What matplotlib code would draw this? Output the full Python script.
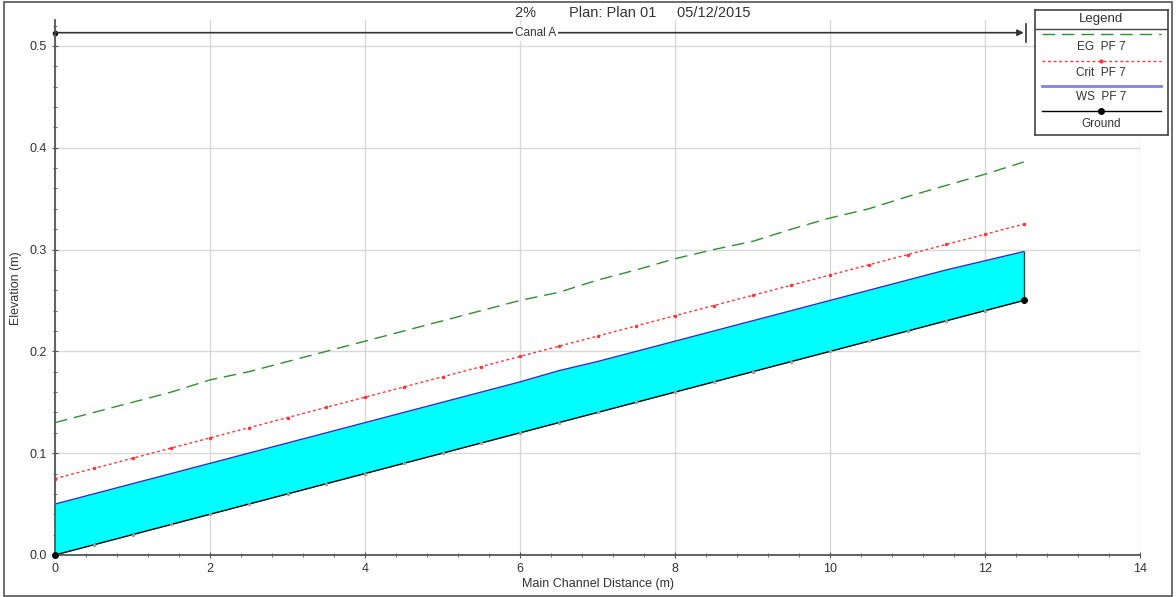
import matplotlib
matplotlib.use("Agg")
import matplotlib.pyplot as plt
from matplotlib.patches import Rectangle
from matplotlib.ticker import MultipleLocator

plt.rcParams["font.family"] = ["Liberation Sans", "DejaVu Sans"]

# station (m) every 0.5 m
dist = [0.0, 0.5, 1.0, 1.5, 2.0, 2.5, 3.0, 3.5, 4.0, 4.5, 5.0, 5.5, 6.0,
        6.5, 7.0, 7.5, 8.0, 8.5, 9.0, 9.5, 10.0, 10.5, 11.0, 11.5, 12.0, 12.5]
ground = [0.0, 0.01, 0.02, 0.03, 0.04, 0.05, 0.06, 0.07, 0.08, 0.09, 0.10, 0.11, 0.12,
          0.13, 0.14, 0.15, 0.16, 0.17, 0.18, 0.19, 0.20, 0.21, 0.22, 0.23, 0.24, 0.25]
ws = [0.050, 0.060, 0.070, 0.080, 0.090, 0.100, 0.110, 0.120, 0.130, 0.140, 0.150, 0.160, 0.170,
      0.181, 0.190, 0.200, 0.210, 0.220, 0.230, 0.240, 0.250, 0.260, 0.270, 0.280, 0.289, 0.298]
crit = [0.075, 0.085, 0.095, 0.105, 0.115, 0.125, 0.135, 0.145, 0.155, 0.165, 0.175, 0.185, 0.195,
        0.205, 0.215, 0.225, 0.235, 0.245, 0.255, 0.265, 0.275, 0.285, 0.295, 0.305, 0.315, 0.325]
eg = [0.130, 0.140, 0.150, 0.160, 0.172, 0.180, 0.190, 0.200, 0.210, 0.220, 0.230, 0.240, 0.250,
      0.258, 0.270, 0.280, 0.291, 0.300, 0.308, 0.320, 0.331, 0.340, 0.352, 0.363, 0.374, 0.386]

title = "2%        Plan: Plan 01     05/12/2015"
reach_name = "Canal A"
legend_names = ["EG  PF 7", "Crit  PF 7", "WS  PF 7", "Ground"]

txt = "#333333"

fig = plt.figure(figsize=(11.76, 5.97), dpi=100)
ax = fig.add_axes([0.0468, 0.0704, 0.9226, 0.8953])

ax.fill_between(dist, ground, ws, color="#00ffff", lw=0)
ax.plot(dist, ws, color="#2233cc", lw=1.0)
ax.plot(dist, ground, color="black", lw=1.0, marker="o", ms=1.5,
        mfc="#c09090", mec="#c09090")
ax.plot([dist[0], dist[-1]], [ground[0], ground[-1]], "o", color="black", ms=4,
        clip_on=False, zorder=5)
ax.plot([dist[-1], dist[-1]], [ground[-1], ws[-1]], color="#1a4a4a", lw=1.0)
ax.plot(dist, crit, color="#ff3333", lw=1.0, ls=(0, (2, 2)), marker="o", ms=1.5)
ax.plot(dist, eg, color="#2f8f2f", lw=1.0, ls=(0, (9, 5)))

ax.set_xlim(0, 14)
ax.set_ylim(0, 0.525)
ax.xaxis.set_major_locator(MultipleLocator(2))
ax.xaxis.set_minor_locator(MultipleLocator(0.4))
ax.yaxis.set_minor_locator(MultipleLocator(0.02))
ax.set_yticks([0, 0.1, 0.2, 0.3, 0.4, 0.5])
ax.set_yticklabels(["0.0", "0.1", "0.2", "0.3", "0.4", "0.5"])
ax.grid(True, which="major", color="#d8d8d8", lw=1.0)
ax.set_axisbelow(True)
ax.tick_params(which="both", direction="inout", colors="#555555", labelcolor=txt,
               labelsize=9)
ax.tick_params(which="major", length=5)
ax.tick_params(which="minor", length=3)
for s in ["top", "right"]:
    ax.spines[s].set_visible(False)
for s in ["left", "bottom"]:
    ax.spines[s].set_color("#555555")
    ax.spines[s].set_linewidth(1.3)

ax.set_xlabel("Main Channel Distance (m)", fontsize=9, color=txt, labelpad=2)
ax.set_ylabel("Elevation (m)", fontsize=9, color=txt, labelpad=5)

# reach bar
yb = 0.513
ax.annotate("", xy=(dist[-1], yb), xytext=(dist[0], yb),
            arrowprops=dict(arrowstyle="-|>", color="#333333", lw=1.2,
                            shrinkA=0, shrinkB=0, mutation_scale=9),
            annotation_clip=False)
ax.plot([dist[0]], [yb], "o", color="black", ms=3, clip_on=False)
ax.plot([dist[-1] + 0.03, dist[-1] + 0.03], [yb - 0.009, yb + 0.009],
        color="#333333", lw=1.2, clip_on=False)
ax.text(6.2, yb, reach_name, ha="center", va="center", fontsize=8.5, color=txt,
        bbox=dict(facecolor="white", edgecolor="none", pad=1.5))

fig.text(0.538, 0.978, title, ha="center", va="center", fontsize=10.5, color=txt)

# legend box
lg = fig.add_axes([0.880, 0.774, 0.113, 0.209])
lg.set_xlim(0, 1)
lg.set_ylim(125, 0)
lg.set_xticks([])
lg.set_yticks([])
for s in lg.spines.values():
    s.set_color("#444444")
    s.set_linewidth(1.2)
lg.text(0.5, 8.5, "Legend", ha="center", va="center", fontsize=9.5, color=txt)
lg.plot([0, 1], [19, 19], color="#444444", lw=1.0)
lg.plot([0.05, 0.95], [24, 24], color="#2f8f2f", lw=1.0, ls=(0, (9, 5)))
lg.text(0.5, 37, legend_names[0], ha="center", va="center", fontsize=8.5, color=txt)
lg.plot([0.05, 0.95], [51, 51], color="#ff3333", lw=1.0, ls=(0, (2, 2)))
lg.plot([0.5], [51], "o", color="#ff3333", ms=2)
lg.text(0.5, 63, legend_names[1], ha="center", va="center", fontsize=8.5, color=txt)
lg.plot([0.05, 0.95], [76, 76], color="#8080ee", lw=2.0)
lg.text(0.5, 87, legend_names[2], ha="center", va="center", fontsize=8.5, color=txt)
lg.plot([0.05, 0.95], [101, 101], color="black", lw=1.0)
lg.plot([0.5], [101], "o", color="black", ms=4)
lg.text(0.5, 114, legend_names[3], ha="center", va="center", fontsize=8.5, color=txt)

fig.patches.append(Rectangle((0.003, 0.002), 0.994, 0.995, transform=fig.transFigure,
                             fill=False, edgecolor="#555555", lw=1.2))

fig.savefig("out.png", dpi=100)
